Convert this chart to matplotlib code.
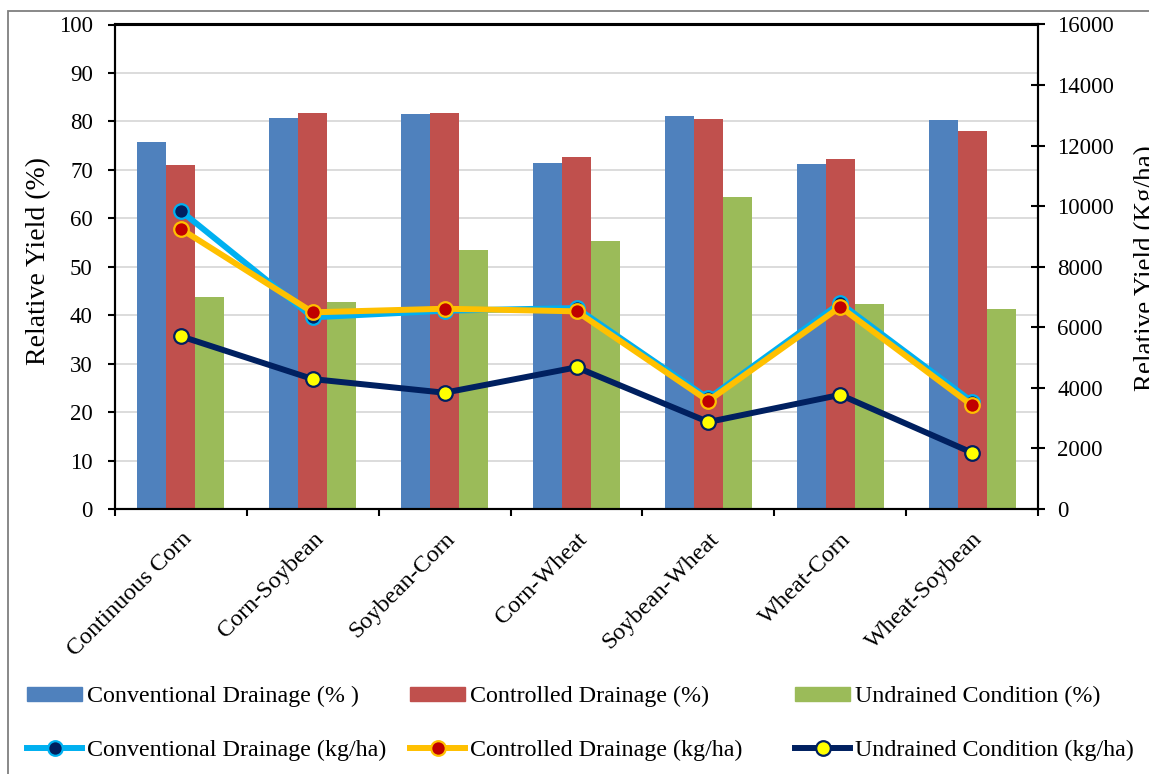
import numpy as np
import matplotlib
matplotlib.use("Agg")
import matplotlib.pyplot as plt
from matplotlib.patches import Rectangle, Patch
from matplotlib.lines import Line2D

plt.rcParams['font.family'] = ['Liberation Serif', 'DejaVu Serif']

categories = ["Continuous Corn", "Corn-Soybean", "Soybean-Corn", "Corn-Wheat",
              "Soybean-Wheat", "Wheat-Corn", "Wheat-Soybean"]
conv_pct = [75.7, 80.8, 81.5, 71.4, 81.1, 71.3, 80.3]
ctrl_pct = [71.1, 81.7, 81.8, 72.7, 80.4, 72.2, 78.0]
undr_pct = [43.8, 42.7, 53.4, 55.3, 64.4, 42.3, 41.3]
conv_kg = [9840, 6330, 6548, 6637, 3650, 6800, 3543]
ctrl_kg = [9246, 6495, 6614, 6528, 3570, 6675, 3424]
undr_kg = [5703, 4290, 3840, 4679, 2873, 3770, 1860]

left_ticks = list(range(0, 101, 10))
right_ticks = list(range(0, 16001, 2000))

c_blue, c_red, c_green = "#4F81BD", "#C0504D", "#9BBB59"

W, H = 1149, 774
fig = plt.figure(figsize=(W / 100, H / 100), dpi=100)
ax = fig.add_axes([115 / W, 1 - 509 / H, (1038 - 115) / W, (509 - 24.5) / H])

x = np.arange(len(categories))
bw = 0.22
ax.bar(x - bw, conv_pct, bw, color=c_blue, zorder=2)
ax.bar(x, ctrl_pct, bw, color=c_red, zorder=2)
ax.bar(x + bw, undr_pct, bw, color=c_green, zorder=2)

ax.set_xlim(-0.5, len(categories) - 0.5)
ax.set_ylim(0, 100)
ax.set_yticks(left_ticks)
ax.yaxis.grid(True, color="#D9D9D9", linewidth=1.3, zorder=0)
ax.set_axisbelow(True)
ax.set_xticks(np.arange(len(categories) + 1) - 0.5)
ax.set_xticklabels([])
ax.set_xticks(x, minor=True)
ax.set_xticklabels(categories, minor=True, rotation=45, ha="right",
                   rotation_mode="anchor", fontsize=17.5)
ax.tick_params(axis="x", which="minor", length=0, pad=14)
ax.tick_params(axis="x", which="major", direction="out", length=5, width=1.5)
ax.tick_params(axis="y", direction="out", length=5, width=1.5, labelsize=16.5, pad=11)
for s in ax.spines.values():
    s.set_linewidth(1.5)

fig.text(39 / W, 1 - 261 / H, "Relative Yield (%)", rotation=90,
         ha="center", va="center", fontsize=20)

ax2 = ax.twinx()
ax2.set_ylim(0, 16000)
ax2.set_yticks(right_ticks)
ax2.tick_params(axis="y", direction="inout", length=10, width=1.5, labelsize=16.5, pad=9)
for s in ax2.spines.values():
    s.set_linewidth(1.5)

lw, ms, mew = 4.3, 10.5, 1.6
l1, = ax2.plot(x, conv_kg, color="#00B0F0", lw=lw, marker="o", ms=ms,
               mfc="#002060", mec="#00B0F0", mew=mew, zorder=3)
l2, = ax2.plot(x, ctrl_kg, color="#FFC000", lw=lw, marker="o", ms=ms,
               mfc="#C00000", mec="#FFC000", mew=mew, zorder=4)
l3, = ax2.plot(x, undr_kg, color="#002060", lw=lw, marker="o", ms=ms,
               mfc="#FFFF00", mec="#002060", mew=mew, zorder=5)

fig.text(1146 / W, 1 - 268 / H, "Relative Yield (Kg/ha)", rotation=90,
         ha="center", va="center", fontsize=19.5)

# outer frame
fig.patches.append(Rectangle((8 / W, -0.5), 2, 1 - 11 / H + 0.5,
                             transform=fig.transFigure, fill=False,
                             edgecolor="#7F7F7F", linewidth=1.3))

groups = [
    (27, [Patch(color=c_blue), l1],
     ["Conventional Drainage (% )", "Conventional Drainage (kg/ha)"]),
    (410, [Patch(color=c_red), l2],
     ["Controlled Drainage (%)", "Controlled Drainage (kg/ha)"]),
    (795, [Patch(color=c_green), l3],
     ["Undrained Condition (%)", "Undrained Condition (kg/ha)"]),
]
for xpos, hs, labs in groups:
    fig.legend(hs, labs, loc="center left", bbox_to_anchor=(xpos / W, 1 - 723.5 / H),
               frameon=False, fontsize=17.3, handlelength=2.3, handleheight=0.5,
               handletextpad=0.2, labelspacing=1.35, borderpad=0, borderaxespad=0)

fig.savefig("out.png", dpi=100)
